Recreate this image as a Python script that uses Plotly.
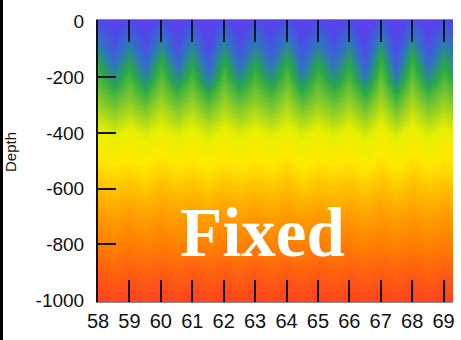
import plotly.graph_objects as go

# ---- data ----
X_COLS = [58, 58.5, 59, 59.5, 60, 60.5, 61, 61.5, 62, 62.5, 63, 63.5,
          64, 64.5, 65, 65.5, 66, 66.5, 67, 67.5, 68, 68.5, 69, 69.5]
DEPTHS = [0, -100, -200, -300, -400, -500, -600, -700, -800, -900, -1000]
Z = [
    [9, 5, 9, 4, 10, 4, 9, 3, 10, 4, 9, 5, 10, 4, 9, 5, 9, 3, 11, 3, 11, 4, 9, 5],
    [20, 11, 20, 10, 22, 10, 21, 8, 22, 10, 20, 11, 22, 10, 20, 11, 21, 8, 24, 8, 24, 10, 21, 12],
    [30, 21, 30, 19, 32, 20, 30, 17, 31, 20, 30, 21, 32, 19, 30, 21, 30, 17, 33, 17, 33, 20, 30, 22],
    [40, 35, 40, 34, 42, 35, 41, 33, 41, 35, 40, 35, 42, 34, 40, 35, 41, 33, 43, 33, 43, 35, 41, 36],
    [52, 48, 52, 48, 52, 48, 52, 47, 52, 48, 52, 48, 52, 48, 52, 48, 52, 47, 53, 47, 53, 48, 52, 49],
    [59, 57, 59, 56, 60, 57, 59, 56, 59, 57, 59, 57, 60, 56, 59, 57, 59, 56, 60, 56, 60, 57, 59, 57],
    [69, 67, 69, 66, 70, 67, 69, 66, 69, 67, 69, 67, 70, 66, 69, 67, 69, 66, 70, 66, 70, 67, 69, 67],
    [79, 77, 79, 77, 79, 77, 79, 76, 79, 77, 79, 77, 79, 77, 79, 77, 79, 76, 79, 77, 79, 77, 79, 77],
    [87, 85, 87, 85, 87, 85, 87, 85, 87, 85, 87, 85, 87, 85, 87, 85, 87, 85, 87, 85, 87, 85, 87, 85],
    [94, 92, 94, 92, 94, 92, 94, 92, 94, 92, 94, 92, 94, 92, 94, 92, 94, 92, 94, 92, 94, 92, 94, 92],
    [100, 98, 100, 98, 100, 98, 100, 98, 100, 98, 100, 98, 100, 98, 100, 98, 100, 98, 100, 98, 100, 98, 100, 98],
]
X_TICKS = [58, 59, 60, 61, 62, 63, 64, 65, 66, 67, 68, 69]
Y_LABELS = [0, -200, -400, -600, -800, -1000]
Y_TICKMARKS = [-200, -400, -600, -800]
Y_TITLE = "Depth"
WATERMARK = "Fixed"

COLORSCALE = [
    [0.00, "#7038f0"], [0.08, "#5048e8"], [0.16, "#3070c8"], [0.26, "#28a848"],
    [0.38, "#88cc28"], [0.50, "#e6f000"], [0.58, "#ffea00"], [0.68, "#ffc000"],
    [0.78, "#ff9c00"], [0.86, "#ff8000"], [0.93, "#ff6010"], [1.00, "#ff4020"],
]

W, H = 461, 340
ML, MR, MT, MB = 98, 8, 20, 38
PW, PH = W - ML - MR, H - MT - MB

TICKFONT = "Liberation Sans, Arial, sans-serif"

fig = go.Figure()
fig.add_trace(go.Heatmap(
    x=X_COLS, y=DEPTHS, z=Z, zmin=0, zmax=100, zsmooth="best",
    colorscale=COLORSCALE, showscale=False, hoverinfo="skip",
))
# carrier for the tick-mark-only axis
fig.add_trace(go.Scatter(x=[None], y=[None], yaxis="y2", showlegend=False, hoverinfo="skip"))

fig.update_layout(
    width=W, height=H,
    margin=dict(l=ML, r=MR, t=MT, b=MB, pad=0, autoexpand=False),
    paper_bgcolor="white", plot_bgcolor="white",
    showlegend=False,
    xaxis=dict(
        range=[58, 69.3], tickvals=X_TICKS, ticktext=[str(v) for v in X_TICKS],
        ticks="inside", ticklen=22, tickwidth=2, tickcolor="#141428",
        mirror="ticks", showline=True, linecolor="#8a8a8a", linewidth=1,
        showgrid=False, zeroline=False, automargin=False,
        tickfont=dict(family=TICKFONT, size=20, color="#111111"),
        ticklabelstandoff=1,
    ),
    yaxis=dict(
        range=[-1007, 5], tickvals=Y_LABELS, ticktext=[str(v) for v in Y_LABELS],
        ticks="", showline=True, linecolor="#111111", linewidth=2,
        showgrid=False, zeroline=False, automargin=False,
        tickfont=dict(family=TICKFONT, size=19, color="#111111"),
        ticklabelstandoff=8,
    ),
    yaxis2=dict(
        overlaying="y", side="left", range=[-1007, 5], tickvals=Y_TICKMARKS,
        ticks="inside", ticklen=18, tickwidth=2, tickcolor="#141428",
        showticklabels=False, showgrid=False, zeroline=False, showline=False,
        automargin=False,
    ),
    annotations=[
        dict(
            text="<b>" + WATERMARK + "</b>", xref="paper", yref="paper", x=0.462, y=0.243,
            xanchor="center", yanchor="middle", showarrow=False,
            font=dict(family="Liberation Serif, Times New Roman, serif", size=69, color="white"),
        ),
        dict(
            text=Y_TITLE, xref="paper", yref="paper",
            x=-(ML - 10) / PW, y=(H - MB - 152) / PH,
            xanchor="center", yanchor="middle", textangle=-90, showarrow=False,
            font=dict(family="Liberation Sans, Arial, sans-serif", size=15, color="#111111"),
        ),
    ],
    shapes=[dict(
        type="rect", xref="paper", yref="paper",
        x0=-ML / PW, x1=-(ML - 3) / PW, y0=-MB / PH, y1=1 + MT / PH,
        fillcolor="black", line=dict(width=0), layer="above",
    )],
)

fig.write_html("out.html")
